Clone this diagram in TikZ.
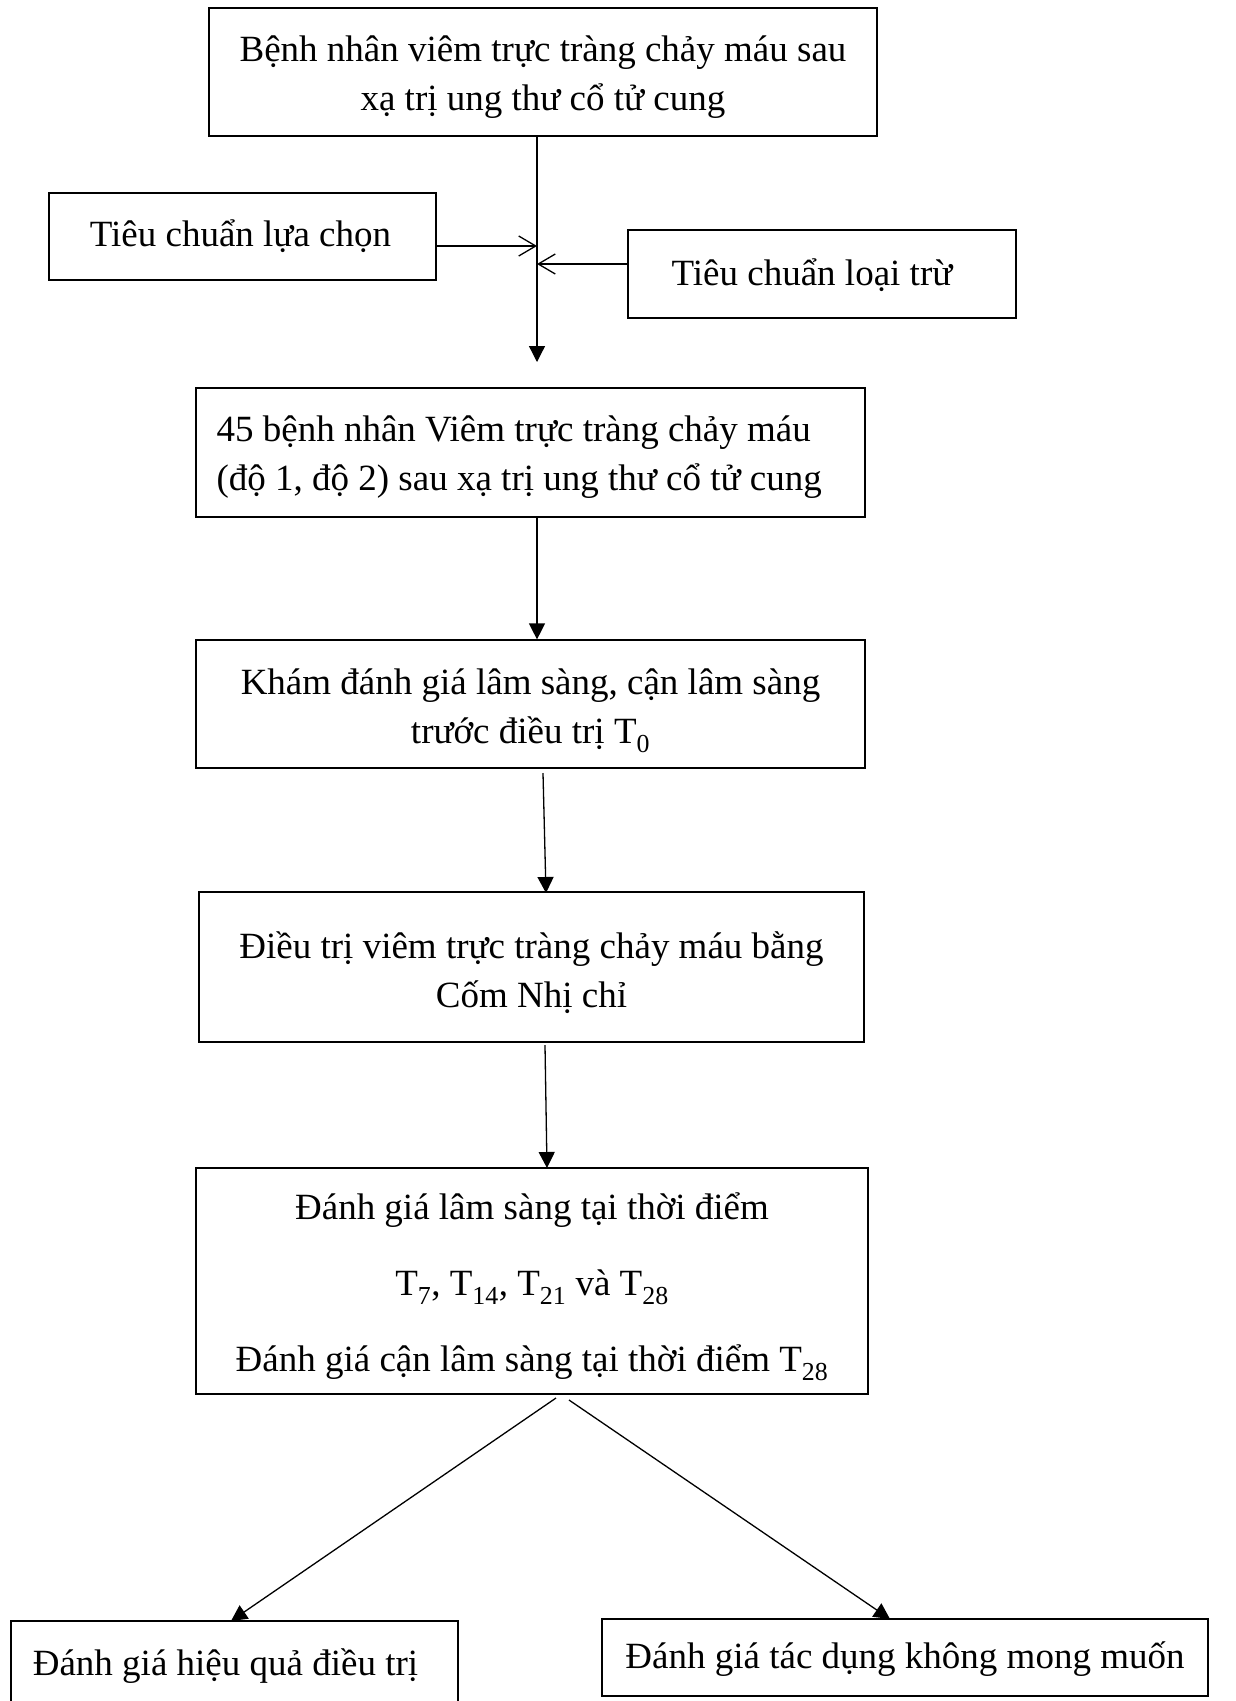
\documentclass[tikz,border=0pt]{standalone}
\usepackage{fontspec}
\setmainfont{Liberation Serif}
\usetikzlibrary{arrows.meta}
\begin{document}
\begin{tikzpicture}[x=1pt,y=-1pt,
  frame/.style={draw,line width=1.2pt,rectangle,inner sep=0pt},
  txt/.style={inner sep=0pt,align=center,font=\fontsize{37}{49}\selectfont},
  conn/.style={line width=1.3pt},
  filledarr/.style={conn,-{Triangle[length=16pt,width=16pt]}},
  openarr/.style={conn,-{Straight Barb[length=17pt,width=20pt,line width=1.3pt]}}]
\useasboundingbox (0,0) rectangle (1235,1701);
\fill[white] (0,0) rectangle (1235,1701);

\node[frame,minimum width=668pt,minimum height=128pt] (b1) at (543,72) {};
\node[txt] (b1t) at ([yshift=-5pt]b1.center)
  {Bệnh nhân viêm trực tràng chảy máu sau\\xạ trị ung thư cổ tử cung};

\node[frame,minimum width=387pt,minimum height=87pt] (sel) at (242.5,236.5) {};
\node[txt] (selt) at ([xshift=-2pt,yshift=0pt]sel.center) {Tiêu chuẩn lựa chọn};

\node[frame,minimum width=388pt,minimum height=88pt] (exc) at (822,274) {};
\node[txt] (exct) at ([xshift=-10pt,yshift=-1pt]exc.center) {Tiêu chuẩn loại trừ};

\node[frame,minimum width=669pt,minimum height=129pt] (b45) at (530.5,452.5) {};
\node[txt,align=left,anchor=west] (b45t) at ([xshift=21pt,yshift=-5pt]b45.west)
  {45 bệnh nhân Viêm trực tràng chảy máu\\(độ 1, độ 2) sau xạ trị ung thư cổ tử cung};

\node[frame,minimum width=669pt,minimum height=128pt] (kham) at (530.5,704) {};
\node[txt] (khamt) at ([yshift=-7pt]kham.center)
  {Khám đánh giá lâm sàng, cận lâm sàng\\trước điều trị T\textsubscript{0}};

\node[frame,minimum width=665pt,minimum height=150pt] (dieutri) at (531.5,967) {};
\node[txt] (dieutrit) at ([yshift=-6pt]dieutri.center)
  {Điều trị viêm trực tràng chảy máu bằng\\Cốm Nhị chỉ};

\node[frame,minimum width=672pt,minimum height=226pt] (danhgia) at (532,1281) {};
\node[txt,font=\fontsize{37}{76}\selectfont] (danhgiat) at ([yshift=-6pt]danhgia.center)
  {Đánh giá lâm sàng tại thời điểm\\T\textsubscript{7}, T\textsubscript{14}, T\textsubscript{21} và T\textsubscript{28}\\Đánh giá cận lâm sàng tại thời điểm T\textsubscript{28}};

\node[frame,minimum width=447pt,minimum height=86pt] (hq) at (234.5,1664) {};
\node[txt] (hqt) at ([xshift=-9pt,yshift=-2pt]hq.center) {Đánh giá hiệu quả điều trị};

\node[frame,minimum width=606pt,minimum height=77pt] (tdkm) at (905,1657.5) {};
\node[txt] (tdkmt) at ([yshift=-2pt]tdkm.center) {Đánh giá tác dụng không mong muốn};

% spine with joins
\coordinate (spine) at (537,362);
\coordinate (j1) at (537,246);
\coordinate (j2) at (537,264);
\draw[filledarr] (b1.south -| spine) -- (spine);
\draw[openarr] (sel.east |- j1) -- (j1);
\draw[openarr] (exc.west |- j2) -- (j2);

\draw[filledarr] (b45.south -| spine) -- (kham.north -| spine);

\coordinate (a3s) at (543,773);
\coordinate (a3e) at (546,893);
\draw[filledarr] (a3s) -- (a3e);

\coordinate (a4s) at (545,1045);
\coordinate (a4e) at (547,1168);
\draw[filledarr] (a4s) -- (a4e);

\coordinate (dl) at (556,1398);
\coordinate (dr) at (569,1400);
\coordinate (hqtop) at (231,1621);
\coordinate (tdtop) at (890,1619);
\draw[filledarr] (dl) -- (hqtop);
\draw[filledarr] (dr) -- (tdtop);
\end{tikzpicture}
\end{document}
